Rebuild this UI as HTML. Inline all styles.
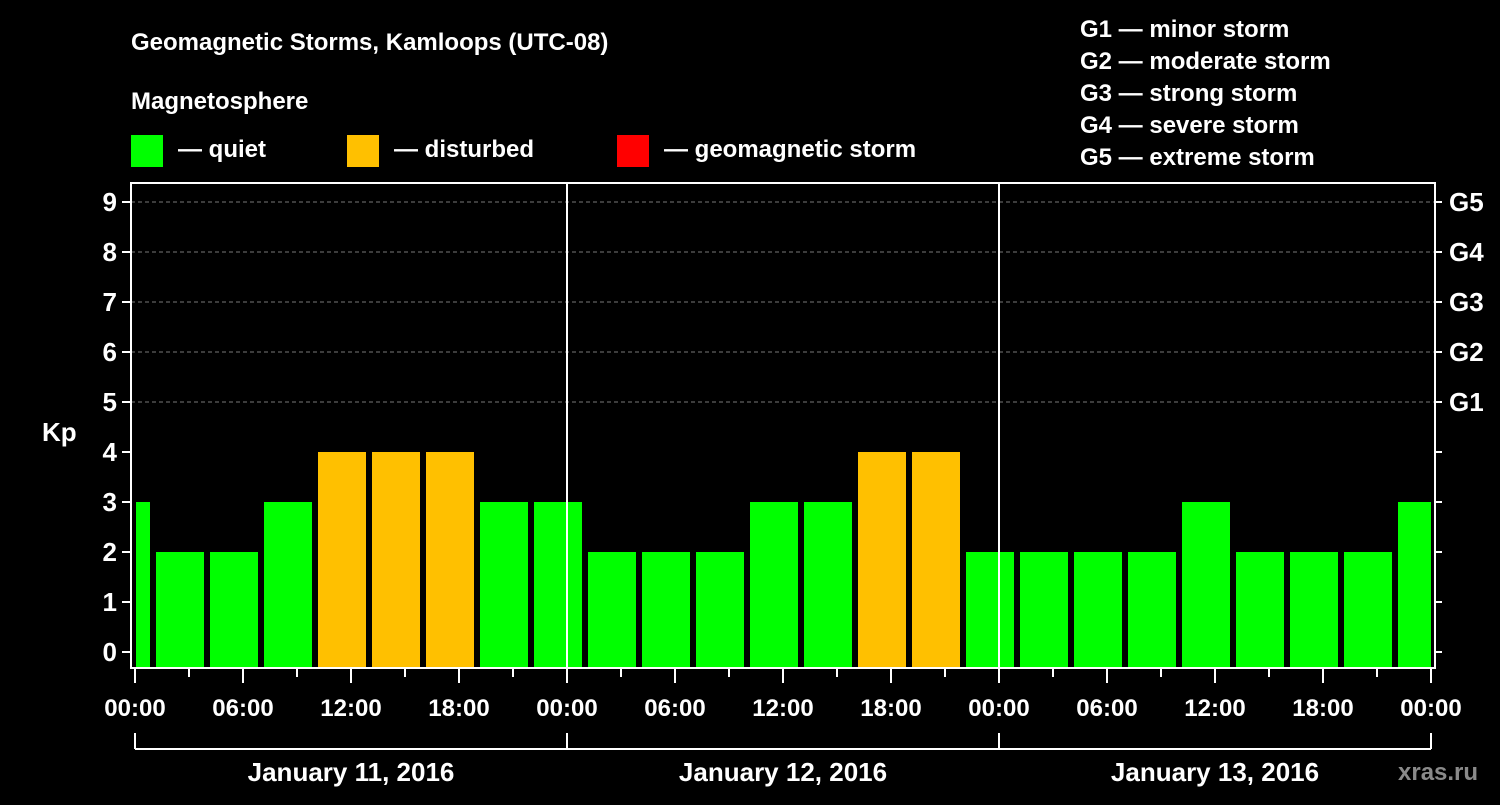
<!DOCTYPE html>
<html><head><meta charset="utf-8"><style>
html,body{margin:0;padding:0;background:#000;}
svg text{font-family:"Liberation Sans",sans-serif;font-weight:bold;fill:#fff;}
</style></head><body>
<svg width="1500" height="800" xmlns="http://www.w3.org/2000/svg">
<text x="131" y="50" font-size="24">Geomagnetic Storms, Kamloops (UTC-08)</text>
<text x="131" y="109" font-size="24">Magnetosphere</text>
<g>
<rect x="131" y="135" width="32" height="32" fill="#00ff00"/>
<text x="178" y="157" font-size="24">— quiet</text>
<rect x="347" y="135" width="32" height="32" fill="#ffc000"/>
<text x="394" y="157" font-size="24">— disturbed</text>
<rect x="617" y="135" width="32" height="32" fill="#ff0000"/>
<text x="664" y="157" font-size="24">— geomagnetic storm</text>
</g>
<g font-size="24">
<text x="1080" y="37">G1 — minor storm</text>
<text x="1080" y="69">G2 — moderate storm</text>
<text x="1080" y="101">G3 — strong storm</text>
<text x="1080" y="133">G4 — severe storm</text>
<text x="1080" y="165">G5 — extreme storm</text>
</g>
<g id="grid"></g>
<g id="bars"></g>
<g id="axes"></g>
<text x="42" y="441" font-size="26">Kp</text>
<text x="1398" y="780" font-size="24" fill="#888" style="fill:#8a8a8a">xras.ru</text>
</svg>
<script>
const kpValues=[3,2,2,3,4,4,4,3,3,2,2,2,3,3,4,4,2,2,2,2,3,2,2,2,3];
const yTicks=[0,1,2,3,4,5,6,7,8,9];
const gLabels=["G1","G2","G3","G4","G5"];
const xTickLabels=["00:00","06:00","12:00","18:00","00:00","06:00","12:00","18:00","00:00","06:00","12:00","18:00","00:00"];
const dayLabels=["January 11, 2016","January 12, 2016","January 13, 2016"];
const NS="http://www.w3.org/2000/svg";
const L=131,R=1435,T=183,B=668,X0=135,PXH=18;
const y=v=>652-50*v;
const x=h=>X0+h*PXH;
function mk(tag,attrs,parent){const e=document.createElementNS(NS,tag);for(const k in attrs)e.setAttribute(k,attrs[k]);parent.appendChild(e);return e;}
const grid=document.getElementById('grid'),bars=document.getElementById('bars'),axes=document.getElementById('axes');
for(let v=5;v<=9;v++){const l=mk('line',{x1:L,x2:R,y1:y(v),y2:y(v),stroke:'#777','stroke-dasharray':'4,3','stroke-width':1},grid);

}
kpValues.forEach((v,i)=>{
 let h0=-2+3*i,h1=h0+3;
 let x0=Math.max(x(h0)+3,L+5),x1=Math.min(x(h1)-3,R-4);
 const col=v>=5?'#ff0000':(v>=4?'#ffc000':'#00ff00');
 const r=mk('rect',{x:x0,y:y(v),width:x1-x0,height:B-y(v),fill:col},bars);
 
 
});
[1,2].forEach(d=>{const l=mk('line',{x1:x(24*d),x2:x(24*d),y1:T,y2:B,stroke:'#fff','stroke-width':2},axes);

});
const fr=mk('rect',{x:L,y:T,width:R-L,height:B-T,fill:'none',stroke:'#fff','stroke-width':2},axes);


yTicks.forEach(v=>{
 mk('line',{x1:122,x2:L,y1:y(v),y2:y(v),stroke:'#fff','stroke-width':2},axes);
 mk('line',{x1:R,x2:1442,y1:y(v),y2:y(v),stroke:'#fff','stroke-width':2},axes);
 const t=mk('text',{x:117,y:y(v)+9,'font-size':26,'text-anchor':'end'},axes);t.textContent=v;
 
 
});
gLabels.forEach((g,i)=>{const t=mk('text',{x:1449,y:y(5+i)+9,'font-size':26},axes);t.textContent=g;
 
 });
for(let h=0;h<=72;h+=3){const major=h%6===0;mk('line',{x1:x(h),x2:x(h),y1:B,y2:major?683:677,stroke:'#fff','stroke-width':2},axes);}
xTickLabels.forEach((s,i)=>{const t=mk('text',{x:x(6*i),y:716,'font-size':24,'text-anchor':'middle'},axes);t.textContent=s;
 
 });
mk('line',{x1:x(0),x2:x(72),y1:749,y2:749,stroke:'#fff','stroke-width':2},axes);
for(let d=0;d<=3;d++)mk('line',{x1:x(24*d),x2:x(24*d),y1:733,y2:749,stroke:'#fff','stroke-width':2},axes);
dayLabels.forEach((s,i)=>{const t=mk('text',{x:x(24*i+12),y:781,'font-size':26,'text-anchor':'middle'},axes);t.textContent=s;
 
 });
</script>
</body></html>
